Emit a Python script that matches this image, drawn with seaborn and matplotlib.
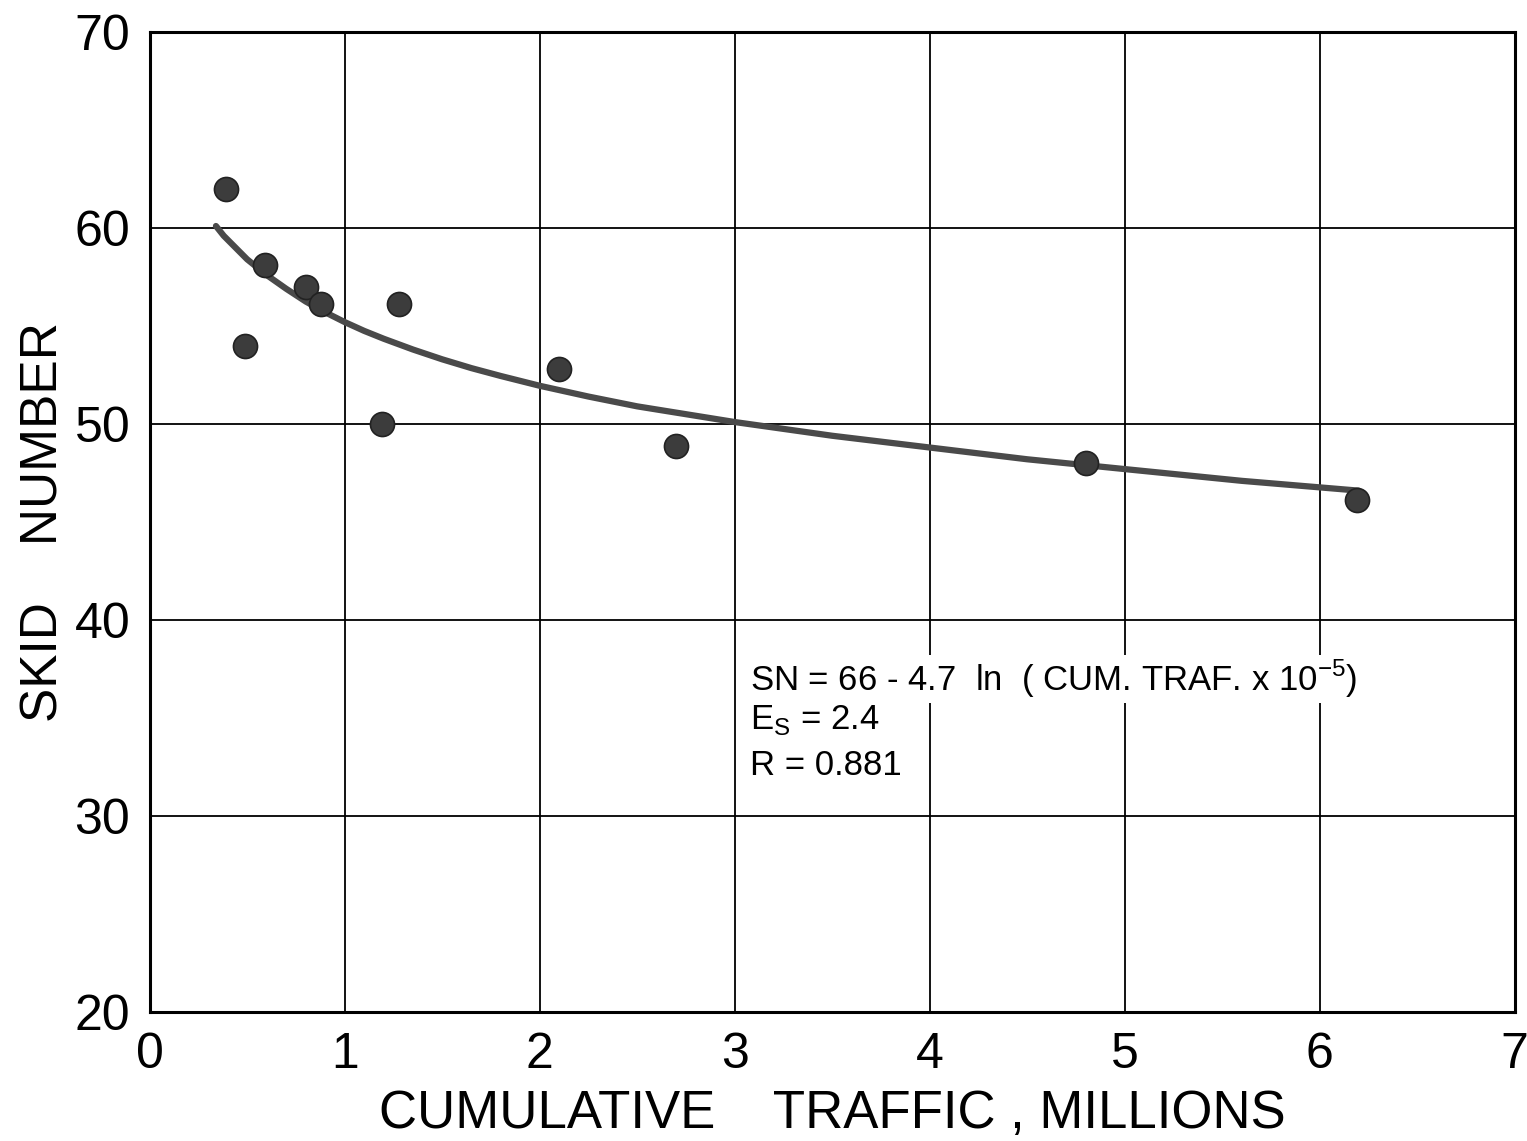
import matplotlib
matplotlib.use("Agg")
import matplotlib.pyplot as plt
import seaborn as sns

# Measured points (cumulative traffic in millions, skid number)
traffic = [0.39, 0.49, 0.59, 0.80, 0.88, 1.19, 1.28, 2.10, 2.70, 4.80, 6.19]
skid = [62.0, 54.0, 58.1, 57.0, 56.1, 50.0, 56.1, 52.8, 48.9, 48.0, 46.1]

# Fitted curve
curve_x = [0.34, 0.38, 0.42, 0.46, 0.50, 0.55, 0.60, 0.70, 0.80, 0.90, 1.00,
           1.10, 1.20, 1.35, 1.50, 1.65, 1.80, 2.00, 2.25, 2.50, 2.75, 3.00,
           3.25, 3.50, 3.75, 4.00, 4.25, 4.50, 4.75, 5.00, 5.30, 5.60, 5.90,
           6.20]
curve_y = [60.1, 59.6, 59.2, 58.8, 58.4, 58.0, 57.6, 56.9, 56.25, 55.7, 55.2,
           54.75, 54.35, 53.8, 53.3, 52.85, 52.45, 51.95, 51.4, 50.9, 50.5,
           50.1, 49.75, 49.4, 49.1, 48.8, 48.5, 48.2, 47.95, 47.7, 47.4, 47.1,
           46.85, 46.6]

x_ticks = [0, 1, 2, 3, 4, 5, 6, 7]
y_ticks = [20, 30, 40, 50, 60, 70]

sns.set_theme(style="white")
plt.rcParams["font.family"] = ["Liberation Sans", "DejaVu Sans"]
plt.rcParams["mathtext.fontset"] = "custom"
plt.rcParams["mathtext.rm"] = "Liberation Sans"
plt.rcParams["text.color"] = "black"
plt.rcParams["axes.labelcolor"] = "black"
plt.rcParams["xtick.color"] = "black"
plt.rcParams["ytick.color"] = "black"

fig = plt.figure(figsize=(15.27, 11.41), dpi=100)
ax = fig.add_axes([0.098, 0.113, 0.894, 0.859])

# Grid lines in black, like the graph paper
for xv in x_ticks:
    ax.axvline(xv, color="black", lw=1.3, zorder=1)
for yv in y_ticks:
    ax.axhline(yv, color="black", lw=1.3, zorder=1)

sns.lineplot(x=curve_x, y=curve_y, ax=ax, color="#4a4a4a", lw=4.5,
             zorder=3, solid_capstyle="round", solid_joinstyle="round")
sns.scatterplot(x=traffic, y=skid, ax=ax, s=300, color="#3c3c3c",
                edgecolor="#222222", linewidth=1.2, zorder=4)

ax.set_xlim(0, 7)
ax.set_ylim(20, 70)
ax.set_xticks(x_ticks)
ax.set_yticks(y_ticks)
ax.tick_params(length=0, labelsize=36, pad=14)
for s in ax.spines.values():
    s.set_color("black")
    s.set_linewidth(2.2)

ax.set_xlabel("CUMULATIVE    TRAFFIC , MILLIONS", fontsize=38, labelpad=8)
ax.set_ylabel("SKID    NUMBER", fontsize=37, labelpad=4)

box = dict(facecolor="white", edgecolor="none", pad=2)
ax.text(3.08, 37.0, "SN = 66 - 4.7  ln  ( CUM. TRAF. x 10$^{-5}$)",
        fontsize=25, bbox=box, zorder=5, va="center")
ax.text(3.08, 34.9, "E$_{\\mathrm{S}}$ = 2.4", fontsize=25, zorder=5,
        va="center")
ax.text(3.08, 32.6, "R = 0.881", fontsize=25, zorder=5, va="center")

fig.savefig("out.png", dpi=100)
